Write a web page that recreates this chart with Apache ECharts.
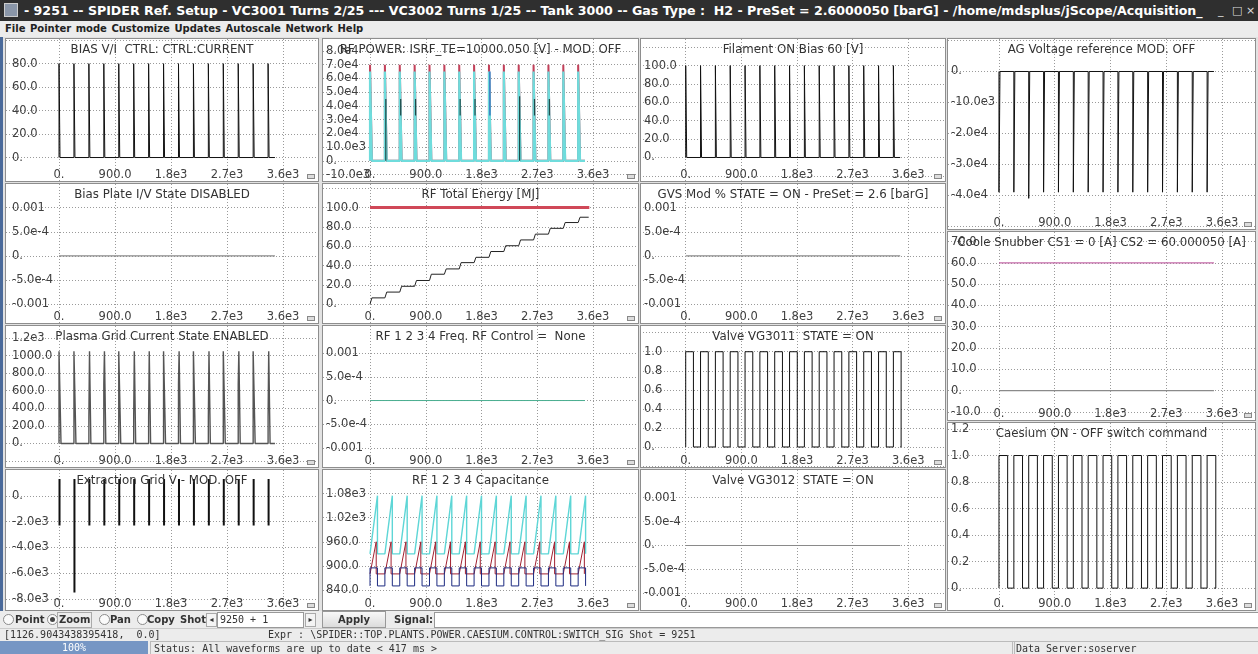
<!DOCTYPE html>
<html><head><meta charset="utf-8">
<script src="https://cdn.jsdelivr.net/npm/echarts@6/dist/echarts.min.js"></script>
<style>
body{margin:0;width:1258px;height:654px;overflow:hidden;background:#e2e2e2;position:relative;font-family:'DejaVu Sans',sans-serif}
.abs{position:absolute;white-space:nowrap}
.titlebar{left:0;top:0;width:1258px;height:21px;background:#2f2f2f;color:#fff;font:bold 12.6px 'DejaVu Sans';line-height:21px}
.menubar{left:0;top:21px;width:1258px;height:16px;background:#ececec;color:#222;font:bold 10px 'DejaVu Sans';line-height:16px;word-spacing:1px}
.panel{position:absolute;background:#fff;border:1px solid #8e8e8e;box-sizing:border-box}
.panel div.c{position:absolute;left:0;top:0;right:0;bottom:0}
.panel span.k{position:absolute;right:3px;bottom:2px;width:6px;height:3px;border:1px solid #888;background:#ddd}
.tool{left:0;top:611px;width:1258px;height:17px;background:#ececec;font:bold 10px 'DejaVu Sans';color:#333;line-height:17px}
.radio{position:absolute;top:3px;width:9px;height:9px;border:1px solid #8a8a8a;border-radius:50%;background:#fafafa}
.radio.on::after{content:'';position:absolute;left:2px;top:2px;width:5px;height:5px;border-radius:50%;background:#444}
.mono{font:10px 'DejaVu Sans Mono';color:#333}
.wc{position:absolute;font-weight:normal;font-size:11px;color:#ddd}
</style></head>
<body>
<div class="abs titlebar"><span style="position:absolute;left:4px;top:3px;width:14px;height:14px;background:#8a96a8;border:1px solid #ccc;box-sizing:border-box"></span><span style="position:absolute;left:24px">- 9251 -- SPIDER Ref. Setup - VC3001 Turns 2/25 --- VC3002 Turns 1/25 -- Tank 3000 -- Gas Type :&nbsp; H2 - PreSet = 2.6000050 [barG] - /home/mdsplus/jScope/Acquisition_</span><span class="wc" style="left:1218px">_</span><span class="wc" style="left:1232px">□</span><span class="wc" style="left:1246px">×</span></div>
<div class="abs menubar"><span style="position:absolute;left:5px">File Pointer mode Customize Updates Autoscale Network Help</span></div>
<div class="abs" style="left:0;top:37px;width:3px;height:574px;background:#4a6a9a"></div>
<div id="panels"></div>
<div class="abs tool">
 <span class="radio" style="left:3px"></span><span class="abs" style="left:15px">Point</span>
 <span class="radio on" style="left:47px"></span><span class="abs" style="left:57px;top:1px;height:14px;line-height:14px;border:1px solid #aaa;padding:0 1px">Zoom</span>
 <span class="radio" style="left:99px"></span><span class="abs" style="left:110px">Pan</span>
 <span class="radio" style="left:137px"></span><span class="abs" style="left:147px">Copy</span>
 <span class="abs" style="left:180px">Shot</span>
 <span class="abs" style="left:206px;top:2px;width:9px;height:12px;border:1px solid #aaa;background:#f4f4f4;font:8px 'DejaVu Sans';line-height:12px;text-align:center">◂</span>
 <span class="abs" style="left:217px;top:1px;width:83px;height:14px;border:1px solid #999;background:#fff;font:normal 10px 'DejaVu Sans Mono';line-height:14px;padding-left:2px">9250 + 1</span>
 <span class="abs" style="left:305px;top:2px;width:9px;height:12px;border:1px solid #aaa;background:#f4f4f4;font:8px 'DejaVu Sans';line-height:12px;text-align:center">▸</span>
 <span class="abs" style="left:322px;top:0px;width:62px;height:15px;border:1px solid #999;background:linear-gradient(#f8f8f8,#dcdcdc);text-align:center;line-height:15px">Apply</span>
 <span class="abs" style="left:394px">Signal:</span>
 <span class="abs" style="left:434px;top:1px;width:824px;height:14px;border:1px solid #999;background:#fff"></span>
</div>
<div class="abs mono" style="left:0;top:628px;width:1258px;height:12px;background:#ececec;border-top:1px solid #ccc;line-height:12px">
 <span class="abs" style="left:4px">[1126.9043438395418,&nbsp; 0.0]</span>
 <span class="abs" style="left:268px">Expr : \SPIDER::TOP.PLANTS.POWER.CAESIUM.CONTROL:SWITCH_SIG Shot = 9251</span>
</div>
<div class="abs mono" style="left:0;top:641px;width:1258px;height:13px;background:#ececec;line-height:13px">
 <span class="abs" style="left:0;top:0;width:148px;height:13px;background:#7696c4;color:#fff;text-align:center">100%</span>
 <span class="abs" style="left:150px;top:0;width:860px;height:12px;border:1px solid #bbb;padding-left:3px">Status: All waveforms are up to date &lt; 417 ms &gt;</span>
 <span class="abs" style="left:1012px;top:0;width:244px;height:12px;border:1px solid #bbb;padding-left:3px">Data Server:soserver</span>
</div>
<script>
// ---------------- data ----------------
const xTicks = [0, 900, 1800, 2700, 3600];
const xTickLabels = ['0.', '900.0', '1.8e3', '2.7e3', '3.6e3'];
const pulseStarts = [0, 240, 480, 720, 960, 1200, 1440, 1680, 1920, 2160, 2400, 2640, 2880, 3120, 3360];
const shotEnd = 3470;

const biasViAmp = [80, 80, 80, 80, 80, 80, 80, 80, 80, 80, 80, 80, 80, 80, 80];
const biasViTicks = [0, 20, 40, 60, 80, 100];
const biasViLabels = ['0.', '20.0', '40.0', '60.0', '80.0', ''];

const rfPowerCyanAmp = [65000, 65000, 65000, 65000, 65000, 65000, 65000, 65000, 65000, 65000, 65000, 65000, 65000, 65000, 65000];
const rfPowerRedAmp = [70000, 70000, 70000, 70000, 70000, 70000, 70000, 70000, 70000, 70000, 70000, 70000, 70000, 70000, 70000];
const rfPowerDarkTop = [null, 45000, 45000, 45000, null, null, 45000, 45000, null, null, 47000, 45000, 45000, null, null];
const rfPowerDarkBottom = [null, 0, 33000, 33000, null, null, 33000, 33000, null, null, 0, 33000, 33000, null, null];
const rfPowerBlueTop = [null, null, null, null, null, null, null, null, 65000, null, null, null, null, null, null];
const rfPowerBlueBottom = [null, null, null, null, null, null, null, null, 33000, null, null, null, null, null, null];
const rfPowerTicks = [-10000, 0, 10000, 20000, 30000, 40000, 50000, 60000, 70000, 80000];
const rfPowerLabels = ['-10.0e3', '0.', '10.0e3', '2.0e4', '3.0e4', '4.0e4', '5.0e4', '6.0e4', '7.0e4', '8.0e4'];

const filamentAmp = [100, 100, 100, 100, 100, 100, 100, 100, 100, 100, 100, 100, 100, 100, 100];
const filamentTicks = [-20, 0, 20, 40, 60, 80, 100, 120];
const filamentLabels = ['', '0.', '20.0', '40.0', '60.0', '80.0', '100.0', ''];

const agAmp = [-39000, -39000, -41000, -39000, -39000, -39000, -39000, -39000, -39000, -39000, -39000, -39000, -39000, -39000, -39000];
const agTicks = [-50000, -40000, -30000, -20000, -10000, 0, 10000];
const agLabels = ['', '-4.0e4', '-3.0e4', '-2.0e4', '-10.0e3', '0.', ''];

const smallTicks = [-0.001, -0.0005, 0, 0.0005, 0.001];
const smallLabels = ['-0.001', '-5.0e-4', '0.', '5.0e-4', '0.001'];

const energyThreshold = 100;
const energyThresholdEnd = 3540;
const energySteps = [6.5, 12.5, 18.5, 24.5, 31, 36.5, 43, 48.5, 54.5, 60.5, 66.5, 72.5, 78.5, 84.5, 90];
const energyEnd = 3530;
const energyTicks = [0, 20, 40, 60, 80, 100, 120];
const energyLabels = ['0.', '20.0', '40.0', '60.0', '80.0', '100.0', ''];

const plasmaAmp = [1050, 1050, 1050, 1050, 1050, 1050, 1050, 1050, 1050, 1050, 1050, 1050, 1050, 1050, 1050];
const plasmaMid = [null, null, 300, 680, null, 300, 300, null, 680, null, 300, null, 680, null, 300];
const plasmaTicks = [-200, 0, 200, 400, 600, 800, 1000, 1200];
const plasmaLabels = ['', '0.', '200.0', '400.0', '600.0', '800.0', '1000.0', '1.2e3'];

const valve3011Amp = [1, 1, 1, 1, 1, 1, 1, 1, 1, 1, 1, 1, 1, 1, 1];
const valveTicks = [-0.2, 0, 0.2, 0.4, 0.6, 0.8, 1.0, 1.2];
const valveLabels = ['', '0.', '0.2', '0.4', '0.6', '0.8', '1.0', ''];

const extrTop = [1300, 1300, 1300, 1300, 1300, 1300, 1300, 1300, 1300, 1300, 1300, 1300, 1300, 1300, 1300];
const extrBottom = [-2300, -7500, -2300, -2300, -2300, -2300, -2300, -2300, -2300, -2300, -2300, -2300, -2300, -2300, -2300];
const extrTicks = [-8000, -6000, -4000, -2000, 0];
const extrLabels = ['-8.0e3', '-6.0e3', '-4.0e3', '-2.0e3', '0.'];

const capCyanBase = 930;
const capCyanPeak = [1075, 1075, 1075, 1075, 1075, 1075, 1075, 1075, 1075, 1075, 1075, 1075, 1075, 1075, 1075];
const capRedBase = 880;
const capRedPeak = [960, 960, 960, 960, 960, 960, 960, 960, 960, 960, 960, 960, 960, 960, 960];
const capNavyLow = 850;
const capNavyHigh = [895, 895, 895, 895, 895, 895, 895, 895, 895, 895, 895, 895, 895, 895, 895];
const capTicks = [840, 900, 960, 1020, 1080];
const capLabels = ['840.0', '900.0', '960.0', '1.02e3', '1.08e3'];

const snubberCs2 = 60;
const snubberCs1 = 0;
const snubberTicks = [-10, 0, 10, 20, 30, 40, 50, 60, 70];
const snubberLabels = ['-10.0', '0.', '10.0', '20.0', '30.0', '40.0', '50.0', '60.0', '70.0'];

const caesiumAmp = [1, 1, 1, 1, 1, 1, 1, 1, 1, 1, 1, 1, 1, 1, 1];
const caesiumTicks = [0, 0.2, 0.4, 0.6, 0.8, 1.0, 1.2];
const caesiumLabels = ['0.', '0.2', '0.4', '0.6', '0.8', '1.0', '1.2'];

// ---------------- waveform builders ----------------
function pulseTrain(amps, width, base, mids) {
  const d = [[pulseStarts[0], base]];
  pulseStarts.forEach((t, i) => {
    if (amps[i] == null) return;
    d.push([t, base]);
    if (mids && mids[i] != null) { d.push([t, mids[i]], [t + 10, mids[i]], [t + 10, amps[i]]); }
    else d.push([t, amps[i]]);
    d.push([t + width, amps[i]], [t + width, base]);
  });
  d.push([shotEnd, base]);
  return d;
}
function segments(tops, bottoms, dt) {
  const d = [];
  pulseStarts.forEach((t, i) => {
    if (tops[i] == null) return;
    d.push([t + dt, bottoms[i]], [t + dt, tops[i]], [t + dt, '-']);
  });
  return d;
}
function flat(v, end) { return [[pulseStarts[0], v], [end || shotEnd, v]]; }
function staircase(steps, rise, end) {
  const d = [[pulseStarts[0], 0]];
  let prev = 0;
  pulseStarts.forEach((t, i) => { d.push([t, prev], [t + rise, steps[i]]); prev = steps[i]; });
  d.push([end, prev]);
  return d;
}
function sawtooth(base, peaks, rise) {
  const d = [[pulseStarts[0], base]];
  pulseStarts.forEach((t, i) => { d.push([t, base], [t + rise, peaks[i]], [t + rise, base]); });
  d.push([shotEnd, base]);
  return d;
}

// ---------------- layout ----------------
const FONT = "'DejaVu Sans', sans-serif";
const colX = [[5, 318], [322, 638], [640, 945], [947, 1255]];
const rowY = [[38, 181], [183, 323], [325, 467], [469, 610]];
const col4Y = [[38, 229], [231, 420], [422, 610]];
const xRanges = [[-852, 4162], [-759, 4326], [-691, 4195], [-823, 4133]];
const labelMargins = [6, 3, 1, 3];

function line(data, color, width, extra) {
  return Object.assign({ type: 'line', data, showSymbol: false, symbol: 'none', silent: true,
    lineStyle: { color, width: width || 1 }, itemStyle: { color }, connectNulls: false, animation: false }, extra || {});
}

const panels = [
  { col: 0, box: rowY[0], title: 'BIAS V/I  CTRL: CTRL:CURRENT', y: [-20, 101], ticks: biasViTicks, labels: biasViLabels,
    series: [line(pulseTrain(biasViAmp, 16, 0), '#111', 1)] },
  { col: 1, box: rowY[0], title: 'RF POWER: ISRF_TE=10000.050 [V] - MOD. OFF', y: [-14700, 88700], ticks: rfPowerTicks, labels: rfPowerLabels,
    series: [line(pulseTrain(rfPowerRedAmp, 30, 0), '#c2415a', 2), line(pulseTrain(rfPowerCyanAmp, 30, 0), '#6fdcdc', 2.2),
             line(segments(rfPowerDarkTop, rfPowerDarkBottom, 15), '#1d4a48', 1.2), line(segments(rfPowerBlueTop, rfPowerBlueBottom, 15), '#3b7fc4', 1.6)] },
  { col: 2, box: rowY[0], title: 'Filament ON Bias 60 [V]', y: [-25.6, 129], ticks: filamentTicks, labels: filamentLabels,
    series: [line(pulseTrain(filamentAmp, 16, 0), '#111', 1)] },
  { col: 3, box: col4Y[0], title: 'AG Voltage reference MOD. OFF', y: [-50900, 10500], ticks: agTicks, labels: agLabels,
    series: [line(pulseTrain(agAmp, 16, 0), '#111', 1)] },
  { col: 0, box: rowY[1], title: 'Bias Plate I/V State DISABLED', y: [-0.00139, 0.00149], ticks: smallTicks, labels: smallLabels,
    series: [line(flat(0), '#8a8a8a', 1.2)] },
  { col: 1, box: rowY[1], title: 'RF Total Energy [MJ]', y: [-19.5, 124.4], ticks: energyTicks, labels: energyLabels,
    series: [line(flat(energyThreshold, energyThresholdEnd), '#d04858', 3), line(staircase(energySteps, 30, energyEnd), '#222', 1)] },
  { col: 2, box: rowY[1], title: 'GVS Mod % STATE = ON - PreSet = 2.6 [barG]', y: [-0.00139, 0.00149], ticks: smallTicks, labels: smallLabels,
    series: [line(flat(0), '#8a8a8a', 1.2)] },
  { col: 3, box: col4Y[1], title: 'Coole Snubber CS1 = 0 [A] CS2 = 60.000050 [A]', y: [-13.8, 74.5], ticks: snubberTicks, labels: snubberLabels,
    series: [line(flat(snubberCs2), '#c46aa8', 1.2), line(flat(snubberCs1), '#8a8a8a', 1.2)] },
  { col: 0, box: rowY[2], title: 'Plasma Grid Current State ENABLED', y: [-268, 1337], ticks: plasmaTicks, labels: plasmaLabels,
    series: [line(pulseTrain(plasmaAmp, 32, 0, plasmaMid), '#555', 1.4)] },
  { col: 1, box: rowY[2], title: 'RF 1 2 3 4 Freq. RF Control =  None', y: [-0.0014, 0.00157], ticks: smallTicks, labels: smallLabels,
    series: [line(flat(0), '#4aae90', 1)] },
  { col: 2, box: rowY[2], title: 'Valve VG3011  STATE = ON', y: [-0.21, 1.27], ticks: valveTicks, labels: valveLabels,
    series: [line(pulseTrain(valve3011Amp, 125, 0), '#111', 1)] },
  { col: 3, box: col4Y[2], title: 'Caesium ON - OFF switch command', y: [-0.165, 1.245], ticks: caesiumTicks, labels: caesiumLabels,
    series: [line(pulseTrain(caesiumAmp, 140, 0), '#111', 1)] },
  { col: 0, box: rowY[3], title: 'Extraction Grid V - MOD. OFF', y: [-8850, 2000], ticks: extrTicks, labels: extrLabels,
    series: [line(segments(extrTop, extrBottom, 8), '#111', 2)] },
  { col: 1, box: rowY[3], title: 'RF 1 2 3 4 Capacitance', y: [790, 1139], ticks: capTicks, labels: capLabels,
    series: [line(sawtooth(capCyanBase, capCyanPeak, 120), '#5ed6d6', 1.4), line(sawtooth(capRedBase, capRedPeak, 100), '#a02030', 1),
             line(pulseTrain(capNavyHigh, 120, capNavyLow), '#1c2a80', 1)] },
  { col: 2, box: rowY[3], title: 'Valve VG3012  STATE = ON', y: [-0.00135, 0.00158], ticks: smallTicks, labels: smallLabels,
    series: [line(flat(0), '#8a8a8a', 1.2)] }
];

function lookup(ticks, labels, v) {
  for (let i = 0; i < ticks.length; i++) if (Math.abs(ticks[i] - v) < 1e-9 * Math.max(1, Math.abs(v)) + 1e-12) return labels[i];
  return '';
}

const holder = document.getElementById('panels');
panels.forEach((p, k) => {
  const cx = colX[p.col];
  const div = document.createElement('div');
  div.className = 'panel';
  div.style.left = cx[0] + 'px'; div.style.top = p.box[0] + 'px';
  div.style.width = (cx[1] - cx[0] + 1) + 'px'; div.style.height = (p.box[1] - p.box[0] + 1) + 'px';
  const c = document.createElement('div'); c.className = 'c'; div.appendChild(c);
  const k2 = document.createElement('span'); k2.className = 'k'; div.appendChild(k2);
  holder.appendChild(div);
  const chart = echarts.init(c, null, { renderer: 'canvas' });
  const gridLine = { show: true, lineStyle: { color: '#9a9a9a', width: 1, type: [1, 2] } };
  const lab = { fontFamily: FONT, fontSize: 11.5, color: '#404040' };
  chart.setOption({
    animation: false,
    title: { text: p.title, left: 'center', top: 0, textStyle: { fontFamily: FONT, fontSize: 11.8, fontWeight: 'normal', color: '#333' } },
    grid: { left: 0, right: 0, top: 0, bottom: 0 },
    xAxis: { type: 'value', min: xRanges[p.col][0], max: xRanges[p.col][1],
      axisLine: { show: false }, axisTick: { show: false, customValues: xTicks },
      axisLabel: Object.assign({ inside: true, margin: 0, customValues: xTicks, formatter: v => lookup(xTicks, xTickLabels, v) }, lab),
      splitLine: gridLine },
    yAxis: { type: 'value', min: p.y[0], max: p.y[1],
      axisLine: { show: false }, axisTick: { show: false, customValues: p.ticks },
      axisLabel: Object.assign({ inside: true, margin: labelMargins[p.col], customValues: p.ticks, formatter: v => lookup(p.ticks, p.labels, v) }, lab),
      splitLine: gridLine },
    series: p.series
  });
});
</script>
</body></html>
